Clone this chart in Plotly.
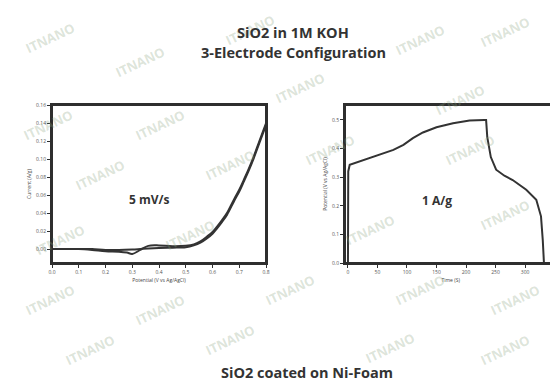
import plotly.graph_objects as go
from plotly.subplots import make_subplots

# CV data (5 mV/s)
cv_fwd_E = [0.0, 0.05, 0.10, 0.15, 0.20, 0.25, 0.28, 0.30, 0.33, 0.36, 0.40, 0.45, 0.50, 0.53, 0.555, 0.58, 0.60, 0.617, 0.635, 0.654, 0.68, 0.70, 0.717, 0.735, 0.754, 0.775, 0.80]
cv_fwd_I = [0.0, 0.0, 0.0, -0.001, -0.0025, -0.003, -0.004, -0.0055, -0.001, 0.0035, 0.004, 0.003, 0.0035, 0.005, 0.0085, 0.014, 0.019, 0.025, 0.032, 0.040, 0.055, 0.066, 0.077, 0.089, 0.103, 0.120, 0.140]
cv_rev_E = [0.80, 0.775, 0.754, 0.735, 0.717, 0.70, 0.68, 0.654, 0.635, 0.617, 0.60, 0.58, 0.555, 0.53, 0.50, 0.45, 0.40, 0.36, 0.33, 0.30, 0.25, 0.20, 0.15, 0.10, 0.05, 0.0]
cv_rev_I = [0.138, 0.118, 0.101, 0.087, 0.075, 0.064, 0.053, 0.038, 0.030, 0.023, 0.017, 0.012, 0.007, 0.004, 0.002, 0.0015, 0.001, 0.0005, 0.0, -0.0005, -0.001, -0.001, 0.0, 0.0, 0.0, 0.0]

# GCD data (1 A/g)
gcd_t = [0, 0.5, 3, 26, 54, 77, 94, 110, 127, 150, 178, 206, 231, 234, 236, 242, 251, 265, 279, 302, 319, 327, 330, 332]
gcd_V = [0.0, 0.32, 0.343, 0.36, 0.378, 0.395, 0.413, 0.436, 0.456, 0.474, 0.488, 0.498, 0.5, 0.5, 0.44, 0.37, 0.326, 0.305, 0.29, 0.256, 0.221, 0.163, 0.08, 0.0]

cv_ticks = [0.0, 0.1, 0.2, 0.3, 0.4, 0.5, 0.6, 0.7, 0.8]
cv_yticks = [0.00, 0.02, 0.04, 0.06, 0.08, 0.10, 0.12, 0.14, 0.16]
gcd_xticks = [0, 50, 100, 150, 200, 250, 300]
gcd_yticks = [0.0, 0.1, 0.2, 0.3, 0.4, 0.5]

# page body has an 8px margin: size the figure to fit and place items in window pixels
OFF = 8
W, H = 558 - OFF, 385 - OFF


def PX(p):
    return (p - OFF) / W


def PY(p):
    return 1 - (p - OFF) / H


FRAME = "#2e2e2e"
fig = make_subplots(rows=1, cols=2)
line = dict(color="#333333", width=2)
fig.add_trace(go.Scatter(x=cv_fwd_E, y=cv_fwd_I, mode="lines", line=line, line_shape="spline", showlegend=False), 1, 1)
fig.add_trace(go.Scatter(x=cv_rev_E, y=cv_rev_I, mode="lines", line=line, line_shape="spline", showlegend=False), 1, 1)
fig.add_trace(go.Scatter(x=gcd_t, y=gcd_V, mode="lines", line=line, showlegend=False), 1, 2)


def ax(**kw):
    d = dict(showline=True, linecolor=FRAME, linewidth=2, mirror=True, ticks="outside",
             ticklen=3, tickwidth=1, tickcolor=FRAME, tickfont=dict(size=5, color="#555555"),
             showgrid=False, zeroline=False, automargin=False)
    d.update(kw)
    return d


tfont = dict(size=5, color="#444")
fig.update_layout(
    width=W, height=H, margin=dict(l=0, r=0, t=0, b=0, pad=0),
    paper_bgcolor="white", plot_bgcolor="white",
    xaxis=ax(domain=[PX(52), PX(266)], range=[0, 0.8], tickvals=cv_ticks, tickformat=".1f",
             title=dict(text="Potential (V vs Ag/AgCl)", font=tfont, standoff=4)),
    yaxis=ax(domain=[PY(263), PY(105)], range=[-0.0156, 0.1604], tickvals=cv_yticks, tickformat=".2f",
             title=dict(text="Current (A/g)", font=tfont, standoff=4)),
    xaxis2=ax(domain=[PX(345), 0.997], range=[-5, 353], tickvals=gcd_xticks,
              title=dict(text="Time (S)", font=tfont, standoff=4)),
    yaxis2=ax(domain=[PY(263), PY(105)], range=[0, 0.552], tickvals=gcd_yticks, tickformat=".1f",
              title=dict(text="Potential (V vs Ag/AgCl)", font=tfont, standoff=4)),
)

# explicit frames around both plot areas
for xr, yr in (("x domain", "y domain"), ("x2 domain", "y2 domain")):
    fig.add_shape(type="rect", xref=xr, yref=yr, x0=0, x1=1, y0=0, y1=1,
                  line=dict(color=FRAME, width=2), fillcolor="rgba(0,0,0,0)", layer="above")

annos = []
# watermark
wm_pos = [(50, 38), (140, 62), (250, 30), (420, 40), (505, 32), (48, 125), (160, 125), (300, 88),
          (460, 100), (100, 175), (230, 165), (330, 150), (470, 150), (60, 240), (190, 235),
          (370, 230), (505, 215), (50, 300), (160, 310), (290, 290), (420, 290), (515, 300),
          (90, 350), (230, 340), (390, 348), (505, 350)]
for (px, py) in wm_pos:
    annos.append(dict(x=PX(px), y=PY(py), xref="paper", yref="paper", text="<b>ITNANO</b>",
                      xanchor="center", yanchor="middle",
                      showarrow=False, textangle=-25, font=dict(size=13, color="rgba(140,165,130,0.30)",
                      family="Open Sans, sans-serif")))


def lab(x, y, text, size, xref="paper", yref="paper"):
    return dict(x=x, y=y, xref=xref, yref=yref, text=text, showarrow=False,
                xanchor="center", yanchor="middle",
                font=dict(size=size, color="#333333", family="Open Sans, sans-serif"))


annos += [
    lab(PX(293), PY(32), "<b>SiO2 in 1M KOH</b>", 14.5),
    lab(PX(293), PY(52), "<b>3-Electrode Configuration</b>", 14.5),
    lab(PX(307), PY(372), "<b>SiO2 coated on Ni-Foam</b>", 14.5),
    lab(0.366, 0.055, "<b>5 mV/s</b>", 12, "x", "y"),
    lab(150, 0.22, "<b>1 A/g</b>", 12, "x2", "y2"),
]
fig.update_layout(annotations=annos, font=dict(family="Open Sans, sans-serif"))
fig.write_html("out.html")
